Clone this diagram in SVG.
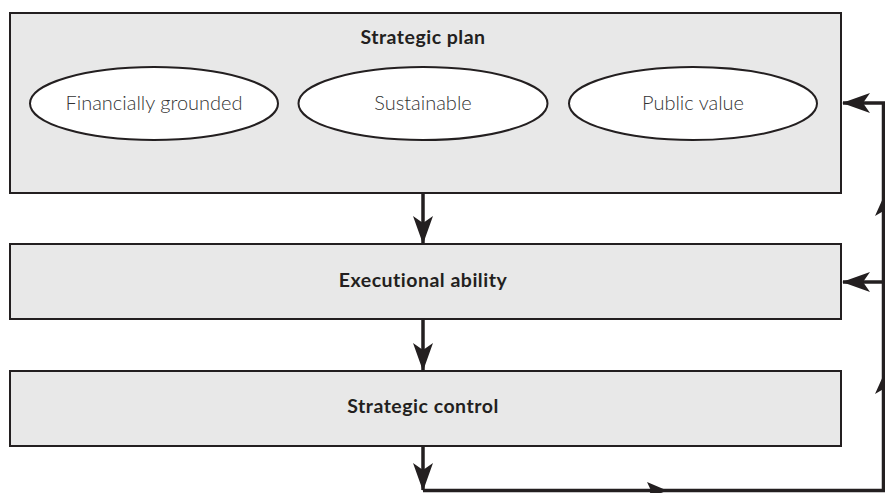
<svg xmlns="http://www.w3.org/2000/svg" width="885" height="493" viewBox="0 0 885 493">
<style>
.box{fill:#e8e8e8;stroke:#231f20;stroke-width:2}
.ell{fill:#fff;stroke:#231f20;stroke-width:2}
.title{font-family:Lato,"Noto Sans",sans-serif;font-weight:bold;font-size:19.5px;letter-spacing:0.5px;fill:#231f20;text-anchor:middle}
.lbl{font-family:Lato,"Noto Sans",sans-serif;font-weight:300;font-size:20px;fill:#333;text-anchor:middle}
.ln{fill:none;stroke:#231f20;stroke-width:3.5}
.hd{fill:#231f20}
</style>
<defs>
<marker id="ah" markerUnits="userSpaceOnUse" viewBox="0 0 28 20" refX="27" refY="10" markerWidth="28" markerHeight="20" orient="auto">
<path d="M0,0 L28,10 L0,20 L7,10 Z" fill="#231f20"/>
</marker>
</defs>
<g id="strategic-plan">
<rect class="box" x="10" y="13" width="831" height="180"/>
<text class="title" x="423" y="44">Strategic plan</text>
<g id="financially-grounded">
<ellipse class="ell" cx="154" cy="103.5" rx="124" ry="36.5"/>
<text class="lbl" x="154" y="110">Financially grounded</text>
</g>
<g id="sustainable">
<ellipse class="ell" cx="423" cy="103.5" rx="124.5" ry="36.5"/>
<text class="lbl" x="423" y="110">Sustainable</text>
</g>
<g id="public-value">
<ellipse class="ell" cx="693" cy="103.5" rx="124" ry="36.5"/>
<text class="lbl" x="693" y="110">Public value</text>
</g>
</g>
<g id="executional-ability">
<rect class="box" x="10" y="244" width="831" height="75"/>
<text class="title" x="423" y="287">Executional ability</text>
</g>
<g id="strategic-control">
<rect class="box" x="10" y="371" width="831" height="75"/>
<text class="title" x="423" y="413">Strategic control</text>
</g>
<g id="connectors">
<line class="ln" x1="423" y1="193" x2="423" y2="243" marker-end="url(#ah)"/>
<line class="ln" x1="423" y1="319" x2="423" y2="370" marker-end="url(#ah)"/>
<line class="ln" x1="423" y1="446" x2="423" y2="490" marker-end="url(#ah)"/>
<polyline class="ln" points="423,490.5 883.5,490.5 883.5,103 843,103" marker-end="url(#ah)"/>
<line class="ln" x1="883.5" y1="282" x2="843" y2="282" marker-end="url(#ah)"/>
<path class="hd" d="M667,490.5 L647,482 L651,490.5 L647,499 Z"/>
<path class="hd" d="M883.5,197 L875,216 L883.5,211 L892,216 Z"/>
<path class="hd" d="M883.5,375 L875,394 L883.5,389 L892,394 Z"/>
</g>
</svg>
